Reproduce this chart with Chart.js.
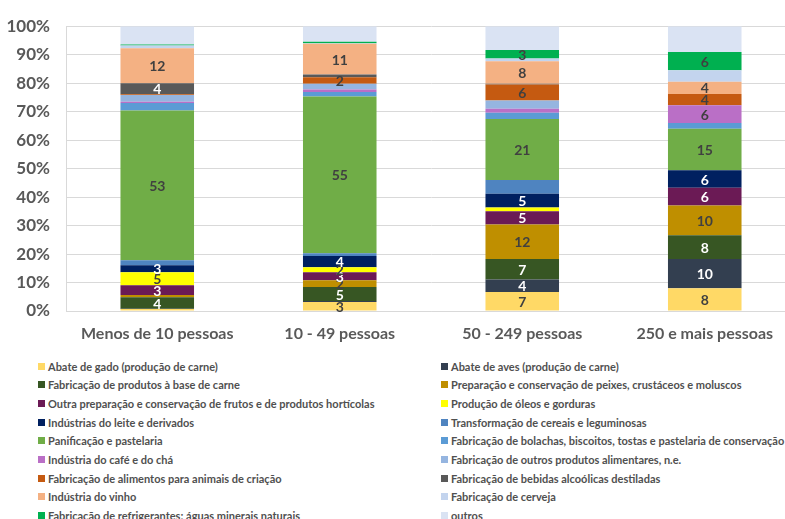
<!DOCTYPE html>
<html>
<head>
<meta charset="utf-8">
<script src="https://cdn.jsdelivr.net/npm/chart.js@4"></script>
<style>
  body { margin: 0; background: #fff; overflow: hidden; width: 785px; height: 519px; }
  #wrap { position: absolute; left: 0; top: 0; width: 796px; height: 351px; }
  #legend { position: absolute; left: 38px; top: 357px; display: grid;
            grid-template-columns: 403px 350px; grid-auto-rows: 18.65px;
            font-family: Lato, sans-serif; font-weight: bold; font-size: 11px; color: #505050; }
  #legend div { display: flex; align-items: center; white-space: nowrap; }
  #legend span { display: inline-block; flex: 0 0 7px; width: 7px; height: 7px; margin-right: 3px; }
</style>
</head>
<body>
<div id="wrap"><canvas id="mygraph"></canvas></div>
<div id="legend"></div>
<script>
const categories = ['Menos de 10 pessoas', '10 - 49 pessoas', '50 - 249 pessoas', '250 e mais pessoas'];

// % of companies per activity (bottom to top)
const abateGado      = [0.7, 3.2, 6.7, 8.0];
const abateAves      = [0.1, 0.3, 4.4, 10.3];
const produtosCarne  = [4.0, 4.9, 7.2, 8.3];
const peixes         = [0.8, 2.4, 12.1, 10.4];
const frutos         = [3.4, 2.8, 4.6, 6.3];
const oleos          = [4.6, 1.8, 1.3, 0];
const leite          = [2.5, 3.9, 4.9, 6.1];
const cereais        = [1.7, 1.0, 4.8, 0];
const panificacao    = [52.6, 55.0, 21.4, 14.6];
const bolachas       = [2.6, 1.6, 2.2, 2.0];
const cafe           = [0.5, 0.9, 1.4, 6.2];
const outrosAlim     = [2.3, 2.0, 2.9, 0];
const animais        = [0.3, 2.3, 5.6, 4.0];
const destiladas     = [3.9, 0.9, 0.3, 0];
const vinho          = [12.3, 10.8, 7.9, 4.3];
const cerveja        = [0.9, 0.2, 1.0, 4.0];
const refrigerantes  = [0.4, 0.5, 2.9, 6.4];
const outros         = [6.4, 5.5, 8.4, 9.1];

const series = [
  ['Abate de gado (produção de carne)', abateGado, '#FFD966', '#404040', true],
  ['Abate de aves (produção de carne)', abateAves, '#333F50', '#FFFFFF', true],
  ['Fabricação de produtos à base de carne', produtosCarne, '#375623', '#FFFFFF', true],
  ['Preparação e conservação de peixes, crustáceos e moluscos', peixes, '#BF8F00', '#404040', true],
  ['Outra preparação e conservação de frutos e de produtos hortícolas', frutos, '#6B1A55', '#FFFFFF', true],
  ['Produção de óleos e gorduras', oleos, '#FFFF00', '#404040', true],
  ['Indústrias do leite e derivados', leite, '#002060', '#FFFFFF', true],
  ['Transformação de cereais e leguminosas', cereais, '#4F84C0', '#404040', false],
  ['Panificação e pastelaria', panificacao, '#70AD47', '#404040', true],
  ['Fabricação de bolachas, biscoitos, tostas e pastelaria de conservação', bolachas, '#5B9BD5', '#404040', false],
  ['Indústria do café e do chá', cafe, '#BA6FC6', '#404040', true],
  ['Fabricação de outros produtos alimentares, n.e.', outrosAlim, '#95B5E0', '#404040', false],
  ['Fabricação de alimentos para animais de criação', animais, '#C55A11', '#404040', true],
  ['Fabricação de bebidas alcoólicas destiladas', destiladas, '#595959', '#FFFFFF', true],
  ['Indústria do vinho', vinho, '#F4B183', '#404040', true],
  ['Fabricação de cerveja', cerveja, '#C3D4EE', '#404040', false],
  ['Fabricação de refrigerantes;  águas minerais naturais', refrigerantes, '#00B050', '#404040', true],
  ['outros', outros, '#DAE3F3', '#404040', false]
];

const barLabels = {
  id: 'barLabels',
  afterDatasetsDraw(chart) {
    const ctx = chart.ctx;
    ctx.save();
    ctx.font = 'bold 14px Lato';
    ctx.textAlign = 'center';
    ctx.textBaseline = 'middle';
    chart.data.datasets.forEach((ds, i) => {
      if (!ds.showLabel) return;
      chart.getDatasetMeta(i).data.forEach((el, j) => {
        const v = Math.round(ds.data[j]);
        if (v < 2) return;
        ctx.fillStyle = ds.labelColor;
        ctx.fillText(v, el.x, (el.y + el.base) / 2 + 1);
      });
    });
    ctx.restore();
  }
};

const ctx = document.getElementById('mygraph').getContext('2d');
const chart = new Chart(ctx, {
  type: 'bar',
  data: {
    labels: categories,
    datasets: series.map(s => ({
      label: s[0], data: s[1], backgroundColor: s[2], labelColor: s[3], showLabel: s[4],
      borderWidth: 0, categoryPercentage: 1, barPercentage: 0.403
    }))
  },
  options: {
    responsive: true,
    maintainAspectRatio: false,
    animation: false,
    layout: {padding: {top: 22, right: 0, left: 0, bottom: 0}},
    plugins: {legend: {display: false}, tooltip: {enabled: false}},
    scales: {
      x: {
        stacked: true,
        grid: {display: false},
        border: {color: '#D9D9D9'},
        ticks: {color: '#595959', font: {family: 'Lato', weight: 'bold', size: 16}, padding: 5},
        afterFit: s => { s.height = 40; }
      },
      y: {
        stacked: true, min: 0, max: 100,
        grid: {color: '#D9D9D9', drawTicks: false},
        border: {color: '#D9D9D9'},
        ticks: {stepSize: 10, color: '#595959', padding: 16,
                font: {family: 'Lato', weight: 'bold', size: 17},
                callback: v => v + '%'},
        afterFit: s => { s.width = 66; }
      }
    }
  },
  plugins: [barLabels]
});

// two-column legend, same order as the original
const legend = document.getElementById('legend');
series.forEach(s => {
  const item = document.createElement('div');
  const box = document.createElement('span');
  box.style.background = s[2];
  item.appendChild(box);
  item.appendChild(document.createTextNode(s[0]));
  legend.appendChild(item);
});
</script>
</body>
</html>
